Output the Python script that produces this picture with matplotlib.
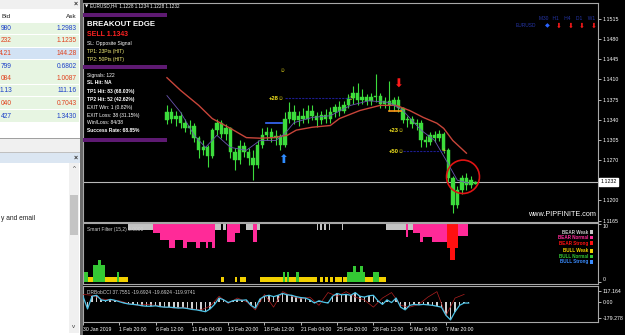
import matplotlib
matplotlib.use("Agg")
import matplotlib.pyplot as plt
from matplotlib.patches import Rectangle, Ellipse

# -----------------------------------------------------------------------------
# 데이터 (EURUSD H4, 30 Jan - 7 Mar 2019)
# -----------------------------------------------------------------------------
# 캔들: 2 bar 간격으로 샘플 (첫 캔들 = bar 37)
candle_open = [1.1339, 1.1353, 1.1342, 1.1347, 1.1335, 1.1325, 1.1330, 1.1308, 1.1287, 1.1292,
               1.1277, 1.1322, 1.1335, 1.1316, 1.1325, 1.1284, 1.1270, 1.1294, 1.1284, 1.1273,
               1.1261, 1.1296, 1.1313, 1.1318, 1.1308, 1.1311, 1.1296, 1.1342, 1.1353, 1.1339,
               1.1347, 1.1342, 1.1356, 1.1346, 1.1339, 1.1349, 1.1342, 1.1354, 1.1363, 1.1356,
               1.1366, 1.1377, 1.1387, 1.1375, 1.1380, 1.1373, 1.1379, 1.1382, 1.1368, 1.1373,
               1.1366, 1.1375, 1.1360, 1.1339, 1.1342, 1.1332, 1.1335, 1.1304, 1.1301, 1.1313,
               1.1308, 1.1315, 1.1287, 1.1239, 1.1192, 1.1218, 1.1239, 1.1227, 1.1228]
candle_close = [1.1353, 1.1342, 1.1347, 1.1335, 1.1325, 1.1330, 1.1308, 1.1287, 1.1292, 1.1277,
                1.1322, 1.1335, 1.1316, 1.1325, 1.1284, 1.1270, 1.1294, 1.1284, 1.1273, 1.1261,
                1.1296, 1.1313, 1.1318, 1.1308, 1.1311, 1.1296, 1.1342, 1.1353, 1.1339, 1.1347,
                1.1342, 1.1356, 1.1346, 1.1339, 1.1349, 1.1342, 1.1354, 1.1363, 1.1356, 1.1366,
                1.1377, 1.1387, 1.1375, 1.1380, 1.1373, 1.1379, 1.1382, 1.1368, 1.1373, 1.1366,
                1.1375, 1.1360, 1.1339, 1.1342, 1.1332, 1.1335, 1.1304, 1.1301, 1.1313, 1.1308,
                1.1315, 1.1287, 1.1239, 1.1192, 1.1218, 1.1239, 1.1227, 1.1235, 1.1232]
candle_high = [1.1365, 1.1360, 1.1356, 1.1353, 1.1342, 1.1339, 1.1335, 1.1311, 1.1304, 1.1297,
               1.1325, 1.1342, 1.1339, 1.1332, 1.1328, 1.1291, 1.1304, 1.1301, 1.1291, 1.1287,
               1.1304, 1.1325, 1.1328, 1.1325, 1.1322, 1.1316, 1.1353, 1.1370, 1.1365, 1.1356,
               1.1360, 1.1365, 1.1366, 1.1353, 1.1356, 1.1358, 1.1363, 1.1368, 1.1373, 1.1373,
               1.1384, 1.1399, 1.1403, 1.1394, 1.1385, 1.1387, 1.1420, 1.1387, 1.1380, 1.1408,
               1.1380, 1.1382, 1.1363, 1.1347, 1.1346, 1.1342, 1.1339, 1.1311, 1.1318, 1.1320,
               1.1322, 1.1318, 1.1291, 1.1242, 1.1225, 1.1244, 1.1247, 1.1242, 1.1234]
candle_low = [1.1332, 1.1335, 1.1330, 1.1325, 1.1318, 1.1315, 1.1301, 1.1273, 1.1278, 1.1258,
              1.1273, 1.1313, 1.1309, 1.1304, 1.1273, 1.1253, 1.1263, 1.1275, 1.1261, 1.1235,
              1.1256, 1.1291, 1.1304, 1.1301, 1.1297, 1.1287, 1.1292, 1.1335, 1.1332, 1.1330,
              1.1334, 1.1335, 1.1339, 1.1327, 1.1332, 1.1335, 1.1334, 1.1344, 1.1347, 1.1351,
              1.1360, 1.1368, 1.1366, 1.1368, 1.1365, 1.1366, 1.1370, 1.1361, 1.1360, 1.1356,
              1.1356, 1.1353, 1.1334, 1.1328, 1.1325, 1.1322, 1.1292, 1.1292, 1.1297, 1.1301,
              1.1303, 1.1282, 1.1232, 1.1178, 1.1187, 1.1211, 1.1218, 1.1221, 1.1228]
FIRST_BAR = 37

# 이동평균 (bar index, price)
ma_slow_bar = [37, 43, 51, 57, 65, 72, 78, 84, 90, 94, 101, 109, 113, 122, 131, 138, 144, 150, 156, 159, 163, 169]
ma_slow = [1.1413, 1.1391, 1.1365, 1.1342, 1.1325, 1.1309, 1.1308, 1.1309, 1.1313, 1.1322, 1.1327,
           1.1330, 1.1342, 1.1356, 1.1365, 1.1365, 1.1356, 1.1344, 1.1334, 1.1325, 1.1304, 1.1282]
ma_fast_bar = [37, 43, 49, 54, 59, 65, 72, 78, 85, 89, 93, 101, 109, 118, 126, 135, 141, 149, 155, 160, 165, 170]
ma_fast = [1.1382, 1.1353, 1.1313, 1.1292, 1.1313, 1.1292, 1.1287, 1.1304, 1.1304, 1.1316, 1.1335,
           1.1344, 1.1347, 1.1365, 1.1373, 1.1370, 1.1356, 1.1322, 1.1304, 1.1270, 1.1235, 1.1230]

bid_price = 1.1232
price_ticks = [1.1515, 1.1480, 1.1445, 1.1410, 1.1375, 1.1340, 1.1305, 1.1270, 1.1200, 1.1165]

# 시그널
buy_bar, buy_price = 87, 1.1282
sell_bar, sell_price = 139, 1.1390
buy_entry = (80.5, 87.7, 1.1335)
buy_tp_line = (89, 118, 1.1377)
sell_entry = (134.8, 140, 1.1356)
sell_tp2_line = (141, 159, 1.1285)
tp_labels = [(89, 1.1377, "+28☺"), (142, 1.1322, "+23☺"), (142, 1.1285, "+50☺")]

# 시간축
time_labels = ["30 Jan 2019", "1 Feb 20:00", "6 Feb 12:00", "11 Feb 04:00", "13 Feb 20:00",
               "18 Feb 12:00", "21 Feb 04:00", "25 Feb 20:00", "28 Feb 12:00", "5 Mar 04:00",
               "7 Mar 20:00"]

# Smart Filter: (start bar, end bar, size, level 0=weak 1=normal 2=strong)
bear_start = [20, 31, 34, 38, 40.5, 44, 46, 50, 51.5, 54, 55, 57, 58, 61.7, 63.5, 67, 72, 75, 76.7,
              103, 104.6, 106.4, 108.4, 114, 133.5, 142.3, 143.2, 145.4, 148.5, 150, 154,
              160.4, 161.7, 164, 165.2]
bear_end = [31, 34, 38, 40.5, 44, 46, 50, 51.5, 54, 55, 57, 58, 61, 63, 67, 69, 75, 76.7, 78,
            103.6, 105.2, 107, 109, 114.8, 142.3, 143.2, 145.4, 148.5, 150, 154, 160.4,
            161.7, 164, 165.2, 169.6]
bear_size = [1.0, 1.55, 2.75, 4.1, 2.75, 4.1, 3.1, 4.1, 3.1, 4.1, 3.1, 4.1, 1.0, 1.0, 3.1, 1.55, 1.0, 3.1, 1.0,
             1.0, 1.0, 1.0, 1.0, 1.0, 1.0, 2.25, 1.0, 1.55, 3.1, 2.25, 3.1,
             4.1, 6.2, 4.1, 2.1]
bear_level = [0, 1, 1, 1, 1, 1, 1, 1, 1, 1, 1, 1, 0, 0, 1, 1, 0, 1, 0,
              0, 0, 0, 0, 0, 0, 1, 0, 1, 1, 1, 1,
              2, 2, 2, 1]
bull_start = [0, 2, 4.4, 6.6, 8, 9.7, 15, 16, 61, 67, 69, 78, 88, 89, 90, 91, 94, 95,
              104.4, 106.6, 108.8, 111, 114.5, 116.3, 119, 120.3, 122, 123.3, 124.2, 127.8, 130.4]
bull_end = [2, 4.4, 6.6, 8, 9.7, 15, 16, 20, 62, 68, 72, 88, 89, 90, 91, 94, 95, 103,
            105.7, 108, 110, 114, 116.3, 119, 120.3, 122, 123.3, 124.2, 127.8, 130.4, 133.5]
bull_size = [1.7, 0.9, 2.9, 3.8, 2.9, 0.9, 1.7, 0.9, 0.9, 0.9, 0.9, 0.9, 1.7, 0.9, 1.7, 0.9, 1.7, 0.9,
             0.9, 0.9, 0.9, 0.9, 0.9, 1.7, 2.8, 1.7, 2.8, 1.7, 0.9, 1.7, 0.9]
bull_level = [1, 0, 1, 1, 1, 0, 1, 0, 0, 0, 0, 0, 1, 0, 1, 0, 1, 0,
              0, 0, 0, 0, 0, 1, 1, 1, 1, 1, 0, 1, 0]

# DRBobCCI (bar 0,2,...,170) / 빠른 선 (bar 0,4,...,168)
cci_main = [60, -80, 60, 70, 20, 10, 25, 15, 0, -15,
            -25, -30, -35, -45, -50, -50, -45, -55, -60, -60,
            -65, -70, -68, -75, -85, -90, -100, -110, -80, -30,
            40, 20, -10, 10, 20, 15, 20, -40, -70, 30,
            60, 70, 55, 70, 90, 75, 70, 55, 45, 40,
            20, -15, 10, -5, -15, 60, 90, 75, 80, 70,
            100, 60, 50, 65, 70, 10, -30, 20, -10, 40,
            -60, -90, -40, -30, -35, -30, -35, -40, -50, -60,
            -150, -200, -110, -40, -15, -15]
cci_fast = [80, 70, 30, 20, 10, -20, -40, -30, -40, -60, -70, -60, -80, -90, -50, 60, -20, 40, 0, -90,
            80, -60, 110, 60, 30, 50, -40, 100, 60, 110, 50, 20, -60, 40, 100, -40, -60, -30, 50, 110,
            -150, 40, 80]

# 좌측 Market Watch (보이는 부분만)
bid_text = ["980", "232", "4.21", "799", "084", "1.13", "040", "427"]
ask_text = ["1.2983", "1.1235", "144.28", "0.6802", "1.0087", "111.16", "0.7043", "1.3430"]
row_up = [True, False, False, True, False, True, False, True]

# -----------------------------------------------------------------------------
# 유틸
# -----------------------------------------------------------------------------
plt.rcParams['font.family'] = ['Liberation Sans', 'DejaVu Sans']
W, H = 625, 335
GRID = "#a8a8a8"
CANDLE = "#3cdc3c"

fig = plt.figure(figsize=(W / 100, H / 100), dpi=100, facecolor="black")

def px_axes(x0, y0, x1, y1):
    return fig.add_axes([x0 / W, 1 - y1 / H, (x1 - x0) / W, (y1 - y0) / H])

def ftext(x, y, s, **kw):
    kw.setdefault("va", "center")
    return fig.text(x / W, 1 - y / H, s, **kw)

def frect(x0, y0, x1, y1, color, z=2):
    fig.add_artist(Rectangle((x0 / W, 1 - y1 / H), (x1 - x0) / W, (y1 - y0) / H,
                             transform=fig.transFigure, color=color, lw=0, zorder=z))

def style_panel(ax):
    ax.set_facecolor("black")
    for s in ax.spines.values():
        s.set_color(GRID)
        s.set_linewidth(0.8)
    ax.yaxis.tick_right()
    ax.tick_params(axis="y", colors="white", labelsize=3.8, length=2, width=0.5, pad=1.5)
    ax.tick_params(axis="x", bottom=False, labelbottom=False)
    ax.set_xlim(0, 227)

# -----------------------------------------------------------------------------
# 메인 차트
# -----------------------------------------------------------------------------
ax = px_axes(83, 3, 598, 222)
style_panel(ax)
ax.set_ylim(1.11625, 1.15427)
ax.set_yticks(price_ticks)
ax.set_yticklabels([f"{v:.4f}" for v in price_ticks])

cx = [FIRST_BAR + 2 * j for j in range(len(candle_open))]
ax.vlines(cx, candle_low, candle_high, color=CANDLE, lw=0.8, zorder=3)
ax.bar(cx, [c - o for o, c in zip(candle_open, candle_close)], bottom=candle_open,
       width=1.5, color=CANDLE, edgecolor=CANDLE, lw=0.3, zorder=3)

ax.plot(ma_slow_bar, ma_slow, color="#c8453a", lw=1.0, zorder=4)
ax.plot(ma_fast_bar, ma_fast, color="#6a55b0", lw=0.6, zorder=4)
ax.axhline(bid_price, color="#b8b8b8", lw=0.8, zorder=2)

# 시그널 / 라인
ax.plot(buy_entry[:2], [buy_entry[2]] * 2, color="#3a6cff", lw=1.2, zorder=5)
ax.plot(buy_tp_line[:2], [buy_tp_line[2]] * 2, color="#1c1c90", lw=0.8, ls=(0, (2, 1)), zorder=5)
ax.plot(sell_entry[:2], [sell_entry[2]] * 2, color="#ff9a1a", lw=1.2, zorder=5)
ax.plot(sell_tp2_line[:2], [sell_tp2_line[2]] * 2, color="#1c1c90", lw=0.8, ls=(0, (2, 1)), zorder=5)
for bx, py, s in tp_labels:
    ax.text(bx, py, s, color="#f5e61e", fontsize=4.2, fontweight="bold",
            ha="right", va="center", zorder=6)
ax.text(88, 1.1425, "☺", color="#f5e61e", fontsize=4, ha="center", va="center")
ax.text(118, 1.1377, "☺", color="#f5e61e", fontsize=4, ha="center", va="center")
ax.text(159, 1.1285, "+", color="#f5e61e", fontsize=5, ha="center", va="center")
ax.text(buy_bar + 1, buy_price, "⬆", color="#2f8cff", fontsize=8.5, ha="center", va="top",
        family="DejaVu Sans", zorder=6)
ax.text(sell_bar, sell_price, "⬇", color="#ff1a1a", fontsize=8.5, ha="center", va="bottom",
        family="DejaVu Sans", zorder=6)

# 손으로 그린 빨간 원
ax.add_patch(Ellipse((167.5, 1.1241), 14.5, 0.0058, fill=False, ec="#e01414", lw=1.2, zorder=7))

ax.annotate(f"{bid_price:.4f}", xy=(1.0, bid_price), xycoords=("axes fraction", "data"),
            xytext=(2, 0), textcoords="offset points", fontsize=3.8, color="black",
            va="center", ha="left", annotation_clip=False,
            bbox=dict(boxstyle="square,pad=0.25", fc="white", ec="white"))

ax.text(0.995, 0.02, "www.PIPFINITE.com", transform=ax.transAxes, color="white",
        fontsize=5.2, ha="right", va="bottom")
ax.text(0.995, 0.93, "M30   H1    H4    D1    W1", transform=ax.transAxes, color="#2636a8",
        fontsize=3.5, ha="right", va="center")
ax.text(0.88, 0.895, "EURUSD", transform=ax.transAxes, color="#2636a8",
        fontsize=3.5, ha="right", va="center")
ax.text(0.902, 0.895, "◆", transform=ax.transAxes, color="#2a64ff",
        fontsize=4.5, ha="center", va="center", family="DejaVu Sans")
for k in range(4):
    ax.text(0.924 + 0.0225 * k, 0.895, "⬇", transform=ax.transAxes, color="#ff1a1a",
            fontsize=5, ha="center", va="center", family="DejaVu Sans")

# -----------------------------------------------------------------------------
# Smart Filter 패널
# -----------------------------------------------------------------------------
bear_colors = ["#c4c4c4", "#ff2a98", "#ff1010"]
bull_colors = ["#f2d000", "#34c834", "#3a8cff"]

axf = px_axes(83, 223, 598, 284)
style_panel(axf)
axf.set_ylim(-0.34, 10.17)
axf.set_yticks([0, 10])
axf.set_yticklabels(["0", "10"])
for lbl, va in zip(axf.get_yticklabels(), ["bottom", "top"]):
    lbl.set_verticalalignment(va)
axf.bar(bear_start, [-s for s in bear_size], width=[e - s for s, e in zip(bear_start, bear_end)],
        bottom=10, align="edge", color=[bear_colors[l] for l in bear_level], lw=0)
axf.bar(bull_start, bull_size, width=[e - s for s, e in zip(bull_start, bull_end)],
        bottom=0, align="edge", color=[bull_colors[l] for l in bull_level], lw=0)
axf.text(0.008, 0.9, "Smart Filter (15,2) 0.0000", transform=axf.transAxes, color="#d0d0d0",
         fontsize=3.5, va="center")

legend_items = [("BEAR Weak", bear_colors[0], 232), ("BEAR Normal", bear_colors[1], 237.5),
                ("BEAR Strong", bear_colors[2], 243), ("BULL Weak", bull_colors[0], 251),
                ("BULL Normal", bull_colors[1], 256.5), ("BULL Strong", bull_colors[2], 262)]
for name, col, yy in legend_items:
    ftext(588, yy, name, color=col, fontsize=3.3, fontweight="bold", ha="right", zorder=5)
    frect(590, yy - 1.6, 593, yy + 1.6, col, z=5)

# -----------------------------------------------------------------------------
# DRBobCCI 패널
# -----------------------------------------------------------------------------
axc = px_axes(83, 286, 598, 322)
style_panel(axc)
axc.set_ylim(-223, 172)
axc.set_yticks([117.164, 0, -179.278])
axc.set_yticklabels(["117.164", "0.00", "-179.278"])
cci_bars = [2 * k for k in range(len(cci_main))]
fast_bars = [4 * k for k in range(len(cci_fast))]
axc.bar(cci_bars, cci_main, width=0.7, color="#cfcfcf", lw=0, zorder=2)
axc.plot(fast_bars, cci_fast, color="#b02020", lw=0.5, zorder=3)
axc.plot(cci_bars, cci_main, color="#4ec4e8", lw=0.9, zorder=4)
axc.text(0.008, 0.82, "DRBobCCI 37.7551 -19.6924 -19.6924 -119.9741", transform=axc.transAxes,
         color="#d0d0d0", fontsize=3.5, va="center")

axc.set_xticks([16 * k for k in range(len(time_labels))])
axc.set_xticklabels(time_labels)
axc.tick_params(axis="x", bottom=True, labelbottom=True, colors="white", labelsize=3.7,
                length=2, width=0.5, pad=1.5)
for lbl in axc.get_xticklabels():
    lbl.set_horizontalalignment("left")

# -----------------------------------------------------------------------------
# 인포 패널 (BREAKOUT EDGE)
# -----------------------------------------------------------------------------
ftext(85, 6, "▼", color="white", fontsize=3, family="DejaVu Sans")
ftext(90, 6, "EURUSD,H4  1.1228 1.1234 1.1228 1.1232", color="white", fontsize=3.3)
purple = "#5e1a72"
frect(83, 13, 167, 17, purple)
frect(83, 65, 167, 69, purple)
frect(83, 138, 167, 142, purple)
ftext(87, 25, "BREAKOUT EDGE", color="white", fontsize=5.6, fontweight="bold")
ftext(87, 35, "SELL 1.1343", color="#ff2222", fontsize=5.0, fontweight="bold")
info_lines = [
    (43, "SL: Opposite Signal", "white", "normal"),
    (51, "TP1: 23Pts (HIT)", "#f5f07a", "normal"),
    (59, "TP2: 50Pts (HIT)", "#f5f07a", "normal"),
    (75, "Signals: 122", "white", "normal"),
    (83, "SL Hit: NA", "white", "bold"),
    (91, "TP1 Hit: 83 (68.03%)", "white", "bold"),
    (99, "TP2 Hit: 52 (42.62%)", "white", "bold"),
    (107, "EXIT Win: 1 (0.82%)", "white", "normal"),
    (115, "EXIT Loss: 38 (31.15%)", "white", "normal"),
    (123, "Win/Loss: 84/38", "white", "normal"),
    (131, "Success Rate: 68.85%", "white", "bold"),
]
for yy, s, col, wt in info_lines:
    ftext(87, yy, s, color=col, fontsize=3.6, fontweight=wt)

# -----------------------------------------------------------------------------
# 좌측 Market Watch / 창 영역
# -----------------------------------------------------------------------------
frect(0, 0, 80, 335, "white", z=1)
frect(80, 0, 83, 335, "#6a6a6a", z=1)
frect(0, 0, 80, 9, "#f0f0f0")
ftext(76, 4.5, "×", color="#303030", fontsize=5, ha="center", fontweight="bold")
ftext(1, 16, "Bid", color="#202020", fontsize=4.6)
ftext(77, 16, "Ask", color="#202020", fontsize=4.6, ha="right")
frect(0, 21.5, 80, 22, "#d8d8d8")
for k in range(len(bid_text)):
    y0 = 22.5 + 12.5 * k
    frect(0, y0, 79, y0 + 11.5, "#d2e2f4" if k == 2 else "#e7f5e2")
    col = "#1a3fc8" if row_up[k] else "#e0401c"
    ftext(12, y0 + 6, bid_text[k], color=col, fontsize=4.8, ha="right")
    ftext(77, y0 + 6, ask_text[k], color=col, fontsize=4.8, ha="right")
frect(0, 137.5, 80, 138.5, "#a0a0a0")
frect(0, 139, 80, 152, "#f0f0f0")
frect(0, 152, 80, 153, "#c0c0c0")
frect(0, 153, 80, 163, "#dbe6f2")
ftext(76, 158, "×", color="#303030", fontsize=5, ha="center", fontweight="bold")
frect(69, 163, 79, 333, "#f0f0f0")
frect(70, 195, 78, 235, "#c4c4c4")
ftext(74, 168, "^", color="#404040", fontsize=4.5, ha="center")
ftext(74, 327, "v", color="#404040", fontsize=4.5, ha="center")
ftext(1, 219, "y and email", color="#202020", fontsize=4.8)

fig.savefig("out.png", dpi=100, facecolor="black")
